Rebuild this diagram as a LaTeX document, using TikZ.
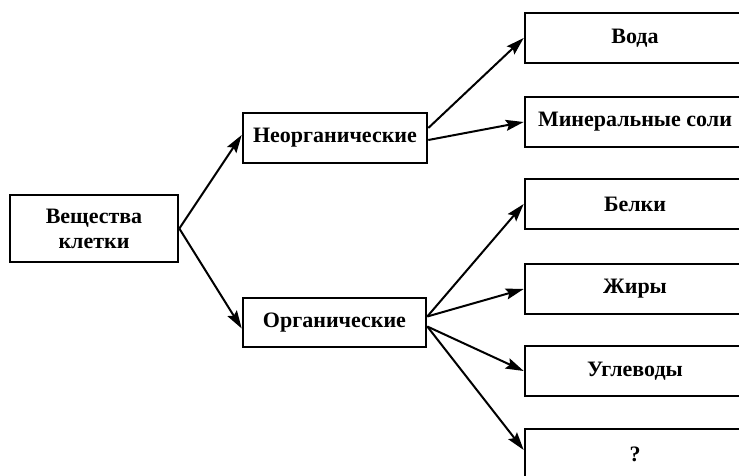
\documentclass[tikz,border=0pt]{standalone}
\usepackage{fontspec}
\setmainfont{Liberation Serif}
\usetikzlibrary{arrows.meta}
\begin{document}
\begin{tikzpicture}[x=1pt,y=-1pt,
  box/.style={draw=black,line width=2.6pt,rectangle,inner sep=0pt,anchor=center,
    font=\fontsize{22}{25}\selectfont\bfseries,align=center},
  arr/.style={line width=2pt,-{Stealth[length=18pt,width=11pt,inset=3pt]}}]
\clip (0,0) rectangle (739,476);
\fill[white] (0,0) rectangle (739,476);
\node[box,minimum width=168pt,minimum height=67pt] (root) at (94,228.5) {Вещества\\клетки};
\node[box,minimum width=184pt,minimum height=50pt] (neo) at (335,138) {Неорганические};
\node[box,minimum width=183pt,minimum height=49pt] (org) at (334.5,322.5) {Органические};
\node[box,minimum width=220pt,minimum height=50pt] (voda) at (635,38) {Вода};
\node[box,minimum width=220pt,minimum height=50pt] (min) at (635,122) {Минеральные соли};
\node[box,minimum width=220pt,minimum height=50pt] (belki) at (635,204) {Белки};
\node[box,minimum width=220pt,minimum height=50pt] (zhiry) at (635,289) {Жиры};
\node[box,minimum width=220pt,minimum height=50pt] (ugl) at (635,371) {Углеводы};
\node[box,minimum width=220pt,minimum height=50pt] (q) at (635,454) {?};
\draw[arr] (root.east) -- ([yshift=3pt]neo.west);
\draw[arr] (root.east) -- ([yshift=-6pt]org.west);
\draw[arr] ([yshift=10pt]neo.east) -- (voda.west);
\draw[arr] ([yshift=-2pt]neo.east) -- (min.west);
\draw[arr] ([yshift=6pt]org.east) -- (belki.west);
\draw[arr] ([yshift=6pt]org.east) -- (zhiry.west);
\draw[arr] ([yshift=-4pt]org.east) -- (ugl.west);
\draw[arr] ([yshift=-4pt]org.east) -- ([yshift=4pt]q.west);
\end{tikzpicture}
\end{document}
